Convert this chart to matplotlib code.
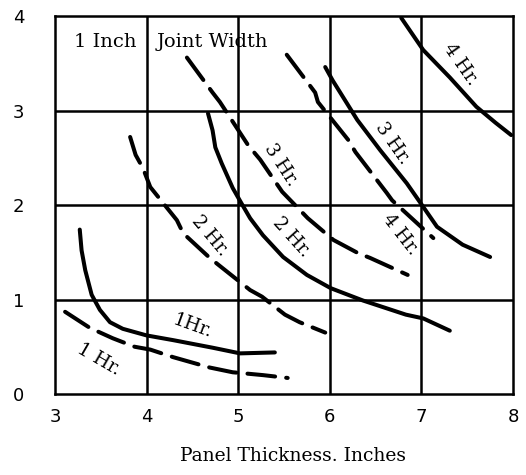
import matplotlib.pyplot as plt

# solid curves (1 inch joint width)
one_hr_x = [3.27, 3.29, 3.33, 3.40, 3.49, 3.60, 3.74, 4.00, 4.29, 4.72, 5.02, 5.40]
one_hr_y = [1.74, 1.52, 1.31, 1.05, 0.89, 0.76, 0.69, 0.62, 0.57, 0.49, 0.43, 0.44]
two_hr_x = [4.67, 4.72, 4.75, 4.82, 4.94, 5.04, 5.13, 5.27, 5.49, 5.75, 6.01, 6.36, 6.83, 7.02, 7.31]
two_hr_y = [2.97, 2.79, 2.61, 2.44, 2.18, 2.01, 1.86, 1.68, 1.45, 1.26, 1.12, 0.99, 0.84, 0.80, 0.67]
three_hr_x = [5.95, 6.03, 6.30, 6.55, 6.84, 7.02, 7.17, 7.45, 7.75]
three_hr_y = [3.46, 3.32, 2.90, 2.58, 2.23, 1.98, 1.77, 1.58, 1.45]
four_hr_x = [6.78, 7.02, 7.31, 7.60, 7.81, 7.98]
four_hr_y = [3.98, 3.64, 3.35, 3.04, 2.87, 2.74]

# dashed curves
one_hr_d_x = [3.11, 3.38, 3.63, 3.87, 4.04, 4.29, 4.69, 4.94, 5.27, 5.54]
one_hr_d_y = [0.87, 0.70, 0.59, 0.50, 0.47, 0.39, 0.28, 0.23, 0.20, 0.17]
two_hr_d_x = [3.82, 3.88, 3.96, 4.04, 4.33, 4.40, 4.69, 4.78, 5.13, 5.26, 5.51, 5.67, 5.95]
two_hr_d_y = [2.72, 2.53, 2.39, 2.19, 1.84, 1.70, 1.44, 1.37, 1.10, 1.03, 0.84, 0.76, 0.65]
three_hr_d_x = [4.44, 4.72, 4.80, 5.11, 5.24, 5.48, 5.57, 5.76, 6.04, 6.31, 6.44, 6.85]
three_hr_d_y = [3.56, 3.19, 3.09, 2.63, 2.48, 2.14, 2.05, 1.86, 1.63, 1.49, 1.44, 1.26]
four_hr_d_x = [5.53, 5.84, 5.87, 6.20, 6.28, 6.62, 6.68, 7.13]
four_hr_d_y = [3.59, 3.19, 3.09, 2.69, 2.56, 2.13, 2.05, 1.65]

# curve labels: text, x, y, rotation
labels = [
    ("1 Hr.", 3.48, 0.37, -30),
    ("1Hr.", 4.50, 0.72, -20),
    ("2 Hr.", 4.69, 1.67, -50),
    ("3 Hr.", 5.47, 2.42, -57),
    ("2 Hr.", 5.58, 1.66, -48),
    ("3 Hr.", 6.68, 2.65, -55),
    ("4 Hr.", 6.77, 1.69, -52),
    ("4 Hr.", 7.43, 3.49, -55),
]

plt.rcParams['lines.scale_dashes'] = False

fig = plt.figure(figsize=(5.26, 4.75), dpi=100)
ax = fig.add_axes([0.1046, 0.1705, 0.8707, 0.7958])

for v in [4, 5, 6, 7]:
    ax.axvline(v, color='black', lw=1.8, zorder=1)
for h in [1, 2, 3]:
    ax.axhline(h, color='black', lw=1.8, zorder=1)

for xs, ys in [(one_hr_x, one_hr_y), (two_hr_x, two_hr_y),
               (three_hr_x, three_hr_y), (four_hr_x, four_hr_y)]:
    ax.plot(xs, ys, color='black', lw=2.9, solid_capstyle='round',
            solid_joinstyle='round', zorder=3)

for xs, ys in [(one_hr_d_x, one_hr_d_y), (two_hr_d_x, two_hr_d_y),
               (three_hr_d_x, three_hr_d_y), (four_hr_d_x, four_hr_d_y)]:
    ax.plot(xs, ys, color='black', lw=2.9, dashes=(20, 8),
            dash_capstyle='round', dash_joinstyle='round', zorder=3)

for txt, x, y, rot in labels:
    ax.text(x, y, txt, rotation=rot, ha='center', va='center',
            fontsize=13.5, family='DejaVu Serif', zorder=4)

ax.text(3.21, 3.72, "1 Inch", ha='left', va='center', fontsize=14, family='DejaVu Serif')
ax.text(4.11, 3.72, "Joint Width", ha='left', va='center', fontsize=14, family='DejaVu Serif')

ax.set_xlim(3, 8)
ax.set_ylim(0, 4)
ax.set_xticks([3, 4, 5, 6, 7, 8])
ax.set_yticks([0, 1, 2, 3, 4])
ax.tick_params(length=0, labelsize=13)
ax.tick_params(axis='y', pad=22)
ax.tick_params(axis='x', pad=10)
for s in ax.spines.values():
    s.set_linewidth(1.8)
ax.set_xlabel("Panel Thickness. Inches", fontsize=13.5, family='DejaVu Serif', labelpad=14)
ax.xaxis.set_label_coords(0.52, -0.14)

plt.savefig('out.png', dpi=100)
